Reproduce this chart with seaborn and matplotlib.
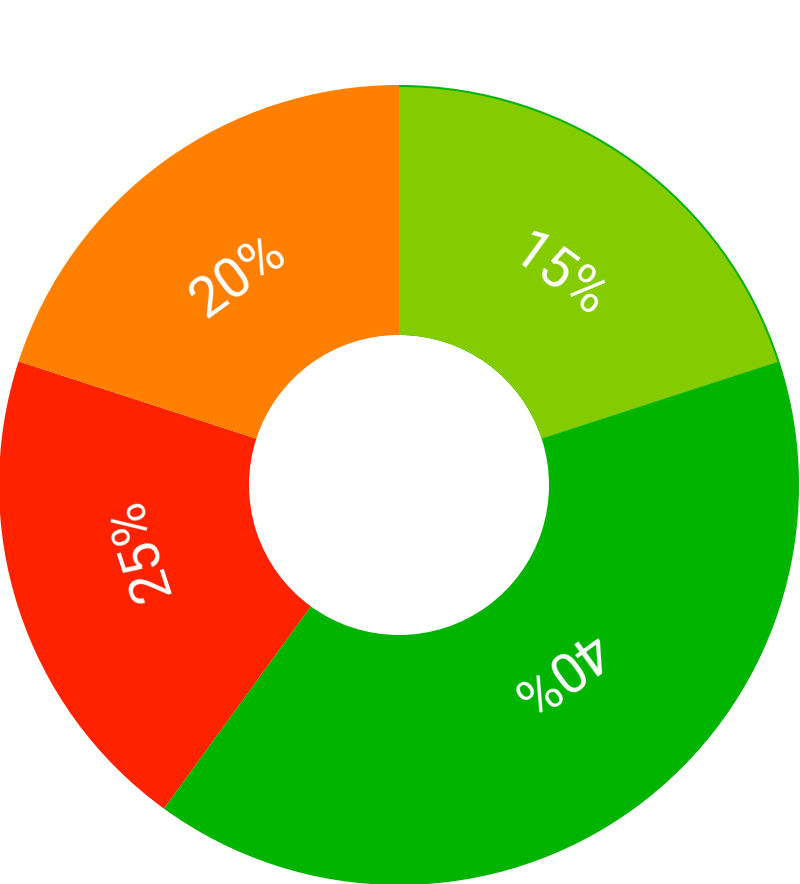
import matplotlib.pyplot as plt
import numpy as np
import seaborn as sns

# Data (slice sizes as drawn, and the printed labels)
categories = ["A", "B", "C", "D"]
slice_sizes = [20, 40, 20, 20]
slice_labels = ["15%", "40%", "25%", "20%"]
slice_colors = ["#84CC00", "#00B400", "#FF2200", "#FF8000"]

sns.set_theme(style="white")
plt.rcParams["font.family"] = ["Roboto", "DejaVu Sans"]

R_OUT = 400
R_IN = 150
# label placement: slightly wider than tall, and nudged up a bit
LABEL_RX = 272
LABEL_RY = 244
LABEL_LIFT = 11

fig = plt.figure(figsize=(8, 8.84), dpi=100)
ax = fig.add_axes([0, 0, 1, 1])

# thin green rim visible along the outer arc of the first slice
ax.pie(
    slice_sizes,
    colors=[slice_colors[1], "none", "none", "none"],
    radius=R_OUT,
    startangle=90,
    counterclock=False,
    wedgeprops=dict(width=R_OUT - R_IN, linewidth=0),
)

wedges, _ = ax.pie(
    slice_sizes,
    colors=slice_colors,
    radius=R_OUT,
    startangle=90,
    counterclock=False,
    wedgeprops=dict(width=R_OUT - R_IN, linewidth=0),
)
wedges[0].set_radius(R_OUT - 2)
wedges[0].set_width(R_OUT - 2 - R_IN)

for w, lab in zip(wedges, slice_labels):
    mid = np.deg2rad((w.theta1 + w.theta2) / 2)
    rot = np.rad2deg(mid) - 90
    ax.text(
        LABEL_RX * np.cos(mid),
        LABEL_RY * np.sin(mid) + LABEL_LIFT,
        lab,
        rotation=rot,
        rotation_mode="anchor",
        ha="center",
        va="center",
        color="white",
        fontsize=40,
    )

ax.set_xlim(-399, 401)
ax.set_ylim(-399, 485)
ax.set_aspect("equal")
ax.axis("off")

fig.savefig("out.png", dpi=100)
